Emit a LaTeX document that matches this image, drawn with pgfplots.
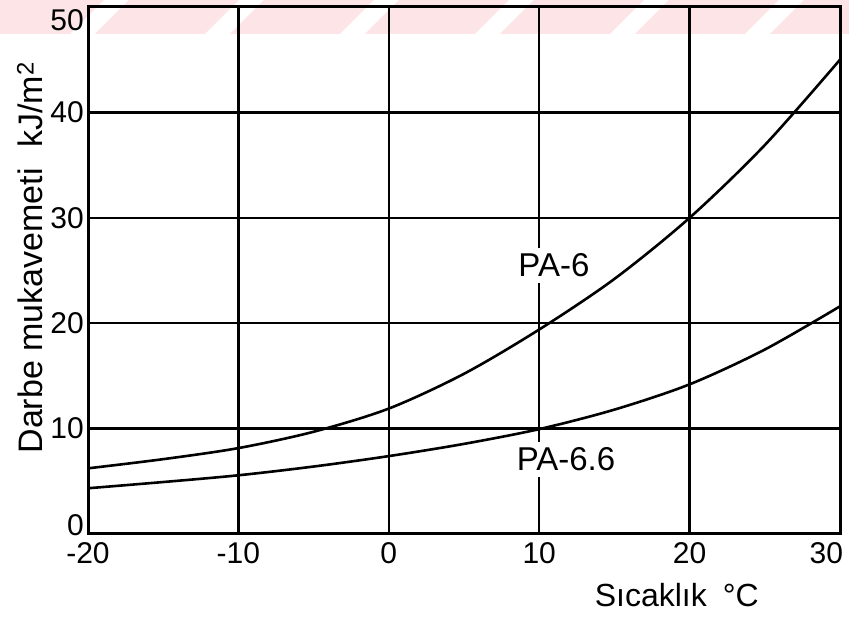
\documentclass[border=0pt]{standalone}
\usepackage{fontspec}
\setmainfont{Liberation Sans}
\usepackage{pgfplots}
\pgfplotsset{compat=1.18}
\definecolor{wmark}{RGB}{252,228,231}

\begin{document}
\begin{tikzpicture}[x=1bp,y=1bp]
% faint diagonal band along the top edge
\foreach \b in {-40,95,...,900} {
  \fill[wmark] ({\b-88},500) -- ({\b+22},500) -- ({\b+56},534) -- ({\b-54},534) -- cycle;
}
\begin{axis}[
  name=ax,
  at={(0,0)}, anchor=south west,
  scale only axis,
  width=752bp, height=527bp,
  xmin=-20, xmax=30, ymin=0, ymax=50,
  xtick={-20,-10,0,10,20,30},
  ytick={0,10,20,30,40,50},
  xticklabels={-20,-10,0,10,20,{\makebox[0pt][r]{30\kern-3bp}}},
  yticklabels={{\raisebox{9bp}[\height][\depth]{0}},10,20,30,40,{\raisebox{-13bp}[\height][\depth]{50}}},
  grid=major,
  major grid style={black, line width=2.5bp},
  axis line style={black, line width=3bp},
  major tick length=0pt,
  tick label style={font=\fontsize{30bp}{36bp}\selectfont},
  xticklabel style={yshift=-5bp},
  yticklabel style={inner xsep=4bp},
  xlabel={Sıcaklık\hspace{0.5em}°C},
  ylabel={Darbe mukavemeti\hspace{0.6em}kJ/m\textsuperscript{2}},
  xlabel style={font=\fontsize{32bp}{38bp}\selectfont, at={(axis description cs:0.783,-0.1157)}, anchor=center},
  ylabel style={font=\fontsize{34bp}{40bp}\selectfont, at={(axis description cs:-0.0771,0.524)}, anchor=center},
  clip=false,
]
% curve labels, set on white so the grid line breaks around them
\node[fill=white, inner xsep=2bp, inner ysep=6bp, font=\fontsize{33bp}{40bp}\selectfont] at (axis cs:10.98,25.47) {PA-6};
\node[fill=white, inner xsep=2bp, inner ysep=6bp, font=\fontsize{33bp}{40bp}\selectfont] at (axis cs:11.78,7.07) {PA-6.6};

% PA-6
\addplot[smooth, black, line width=2.6bp] coordinates {
  (-20,6.23) (-15,7.1) (-10,8.15) (-5,9.7) (0,11.9) (5,15.2)
  (10,19.4) (15,24.2) (20,30.0) (25,36.9) (30,45.0)
};
% PA-6.6
\addplot[smooth, black, line width=2.6bp] coordinates {
  (-20,4.34) (-15,4.93) (-10,5.57) (-5,6.4) (0,7.39) (5,8.55)
  (10,9.95) (15,11.8) (20,14.2) (25,17.5) (30,21.6)
};
\end{axis}
\pgfresetboundingbox
\path ([shift={(-88bp,-83bp)}]ax.south west) rectangle ([shift={(9bp,7bp)}]ax.north east);
\end{tikzpicture}
\end{document}
